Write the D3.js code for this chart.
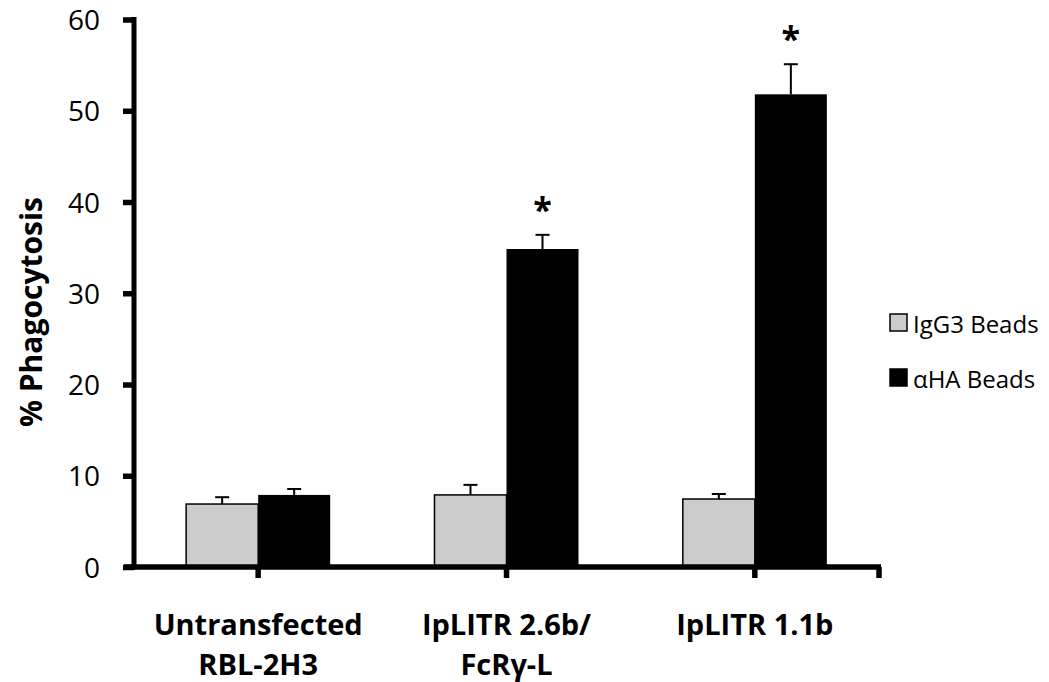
<!DOCTYPE html>
<html>
<head>
<meta charset="utf-8">
<script src="https://cdn.jsdelivr.net/npm/d3@7"></script>
<style>
  html, body { margin: 0; padding: 0; background: #fff; }
  svg { display: block; }
  text { font-family: "Open Sans", "Liberation Sans", sans-serif; fill: #000; }
</style>
</head>
<body>
<svg id="chart" width="1049" height="682"></svg>
<script>
// ---- data ----
const categories = ["Untransfected\nRBL-2H3", "IpLITR 2.6b/\nFcRγ-L", "IpLITR 1.1b"];
const seriesNames = ["IgG3 Beads", "αHA Beads"];
const igg3Values = [6.9, 7.9, 7.45];
const igg3Errors = [0.75, 1.1, 0.55];
const ahaValues = [7.9, 34.85, 51.8];
const ahaErrors = [0.65, 1.55, 3.3];
const significant = [false, true, true];
const yTicks = [0, 10, 20, 30, 40, 50, 60];
const seriesColors = ["#cccccc", "#000000"];

const svg = d3.select("#chart");

const x = d3.scaleBand().domain(categories).range([134, 879]).paddingInner(0).paddingOuter(0);
const y = d3.scaleLinear().domain([0, 60]).range([567, 19.5]);
const barW = x.bandwidth() * 0.29;

const rows = categories.map((c, i) => ({
  cat: c,
  series: [
    { s: 0, v: igg3Values[i], e: igg3Errors[i] },
    { s: 1, v: ahaValues[i], e: ahaErrors[i] }
  ],
  sig: significant[i]
}));

// bars
const g = svg.append("g");
rows.forEach(r => {
  const cx = x(r.cat) + x.bandwidth() / 2;
  r.series.forEach(d => {
    const bx = d.s === 0 ? cx - barW : cx;
    g.append("rect")
      .attr("x", bx).attr("y", y(d.v))
      .attr("width", barW).attr("height", y(0) - y(d.v))
      .attr("fill", seriesColors[d.s])
      .attr("stroke", "#000").attr("stroke-width", d.s === 0 ? 1.5 : 0);
    const ex = bx + barW / 2;
    const top = y(d.v + d.e);
    g.append("line").attr("x1", ex).attr("x2", ex)
      .attr("y1", y(d.v)).attr("y2", top)
      .attr("stroke", "#000").attr("stroke-width", 2);
    g.append("line").attr("x1", ex - 7).attr("x2", ex + 7)
      .attr("y1", top).attr("y2", top)
      .attr("stroke", "#000").attr("stroke-width", 2);
    if (d.s === 1 && r.sig) {
      g.append("text").attr("x", ex).attr("y", top - 13)
        .attr("text-anchor", "middle")
        .style("font-size", "34px").style("font-weight", "bold")
        .text("*");
    }
  });
});

// y axis
const yAxis = d3.axisLeft(y).tickValues(yTicks).tickSize(11).tickPadding(23).tickSizeOuter(0);
const ya = svg.append("g").attr("transform", "translate(134,0)").call(yAxis);
ya.attr("font-size", null).attr("font-family", null);
ya.select(".domain").attr("stroke", "#000").attr("stroke-width", 5)
  .attr("d", `M0,${y(60) - 2.5}V${y(0) + 2.5}`);
ya.selectAll(".tick line").attr("stroke", "#000").attr("stroke-width", 5.5);
ya.selectAll(".tick text").style("font-size", "28px").attr("dy", "0.36em");

// x axis
const xa = svg.append("g").attr("transform", `translate(0,${y(0)})`);
xa.append("line").attr("x1", 124).attr("x2", 881)
  .attr("stroke", "#000").attr("stroke-width", 5.5);
const xTickPos = categories.map(c => x(c) + x.bandwidth() / 2).concat([x.range()[1]]);
xa.selectAll("line.xt").data(xTickPos).join("line").attr("class", "xt")
  .attr("x1", d => d).attr("x2", d => d).attr("y1", 0).attr("y2", 11)
  .attr("stroke", "#000").attr("stroke-width", 5.5);

// category labels
categories.forEach(c => {
  const cx = x(c) + x.bandwidth() / 2;
  const lines = c.split("\n");
  const t = svg.append("text").attr("text-anchor", "middle")
    .style("font-size", "29px").style("font-weight", "bold");
  lines.forEach((ln, i) => {
    t.append("tspan").attr("x", cx).attr("y", 635 + i * 40).text(ln);
  });
});

// y title
svg.append("text")
  .attr("transform", "translate(42,312) rotate(-90)")
  .attr("text-anchor", "middle")
  .style("font-size", "30px").style("font-weight", "bold")
  .text("% Phagocytosis");

// legend
const lg = svg.append("g");
seriesNames.forEach((n, i) => {
  const ly = 314 + i * 55;
  lg.append("rect").attr("x", 890).attr("y", ly).attr("width", 17).attr("height", 17)
    .attr("fill", seriesColors[i]).attr("stroke", "#000").attr("stroke-width", 1.5);
  lg.append("text").attr("x", 913).attr("y", ly + 19)
    .style("font-size", "24px").text(n);
});
</script>
</body>
</html>
